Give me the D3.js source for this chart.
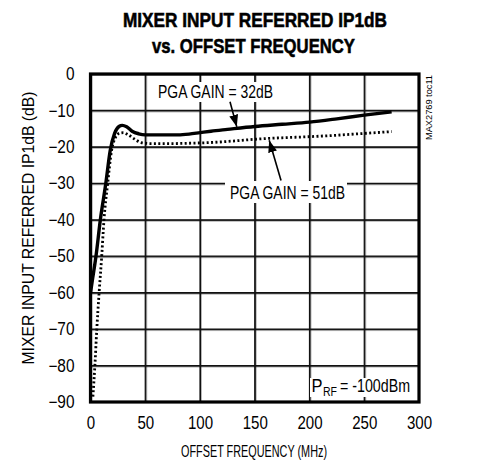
<!DOCTYPE html>
<html><head><meta charset="utf-8">
<script src="https://cdn.jsdelivr.net/npm/d3@7"></script>
<style>
body{margin:0;background:#fff}
svg{display:block}
text{font-family:"Liberation Sans",Arial,sans-serif;fill:#000}
</style>
</head><body>
<svg id="c" width="492" height="460"></svg>
<script>
// ---- data ----
const xTicks = [0, 50, 100, 150, 200, 250, 300];
const yTicks = [0, -10, -20, -30, -40, -50, -60, -70, -80, -90];
const freq32 = [0, 2, 5, 9, 14, 18, 22, 26, 29, 33, 38, 44, 50, 60, 70, 80, 90, 100, 110, 125, 150, 175, 200, 225, 250, 275];
const ip32   = [-60, -56, -50, -40, -30, -21, -16.3, -14.4, -14.1, -14.5, -15.7, -16.4, -16.7, -16.7, -16.7, -16.7, -16.5, -16.1, -15.7, -15.2, -14.4, -13.8, -13.2, -12.3, -11.3, -10.4];
const freq51 = [2.2, 4.1, 5.7, 7.8, 10.2, 12.3, 15.7, 19.3, 23, 27, 30, 34, 40, 46, 55, 70, 90, 110, 130, 155, 175, 200, 225, 250, 275];
const ip51   = [-88.5, -79.5, -70.3, -60.3, -50.2, -40.1, -30, -20.9, -17.3, -16.2, -16.1, -16.6, -17.8, -18.8, -19.1, -19.1, -19.0, -18.8, -18.4, -17.8, -17.5, -17.2, -16.8, -16.3, -15.8];
const titleLines = ["MIXER INPUT REFERRED IP1dB", "vs. OFFSET FREQUENCY"];
const xLabel = "OFFSET FREQUENCY (MHz)";
const yLabel = "MIXER INPUT REFERRED IP1dB (dB)";

const svg = d3.select("#c");
const L = 90.5, R = 419, T = 74, B = 402;
const x = d3.scaleLinear().domain([0, 300]).range([L, R]);
const y = d3.scaleLinear().domain([-90, 0]).range([B, T]);

function condense(sel, f) {
  sel.each(function () {
    const w = this.getComputedTextLength();
    d3.select(this).attr("textLength", w * f).attr("lengthAdjust", "spacingAndGlyphs");
  });
}

const defs = svg.append("defs");

// grid as a pattern whose tile size comes from the scales' tick spacing
const cellW = x(xTicks[1]) - x(xTicks[0]);
const cellH = y(yTicks[1]) - y(yTicks[0]);
const pat = defs.append("pattern").attr("id", "gridpat").attr("patternUnits", "userSpaceOnUse")
  .attr("x", L).attr("y", T).attr("width", cellW).attr("height", cellH);
pat.append("rect").attr("width", cellW).attr("height", cellH).attr("fill", "#fff");
pat.append("rect").attr("x", 0).attr("y", 0).attr("width", 1.3).attr("height", cellH).attr("fill", "#111");
pat.append("rect").attr("x", 0).attr("y", 0).attr("width", cellW).attr("height", 1.3).attr("fill", "#111");
svg.append("rect").attr("x", L).attr("y", T).attr("width", R - L).attr("height", B - T)
  .attr("fill", "url(#gridpat)");

// grid lines also as explicit lines (in case patterns are flattened)
const gridG = svg.append("g");
xTicks.slice(1, -1).forEach(t => {
  gridG.append("line").attr("x1", x(t)).attr("x2", x(t)).attr("y1", T).attr("y2", B)
    .attr("stroke", "#111").attr("stroke-width", 1.2);
});
yTicks.slice(1, -1).forEach(t => {
  gridG.append("line").attr("x1", L).attr("x2", R).attr("y1", y(t)).attr("y2", y(t))
    .attr("stroke", "#111").attr("stroke-width", 1.2);
});

// curves
defs.append("clipPath").attr("id", "clip").append("rect")
  .attr("x", L).attr("y", T).attr("width", R - L).attr("height", B - T);
const line = d3.line().x(d => x(d[0])).y(d => y(d[1])).curve(d3.curveMonotoneX);
const plot = svg.append("g").attr("clip-path", "url(#clip)");
plot.append("path").datum(freq51.map((f, i) => [f, ip51[i]]))
  .attr("d", line).attr("fill", "none").attr("stroke", "#000")
  .attr("stroke-width", 2.8).attr("stroke-dasharray", "2,2.4");
plot.append("path").datum(freq32.map((f, i) => [f, ip32[i]]))
  .attr("d", line).attr("fill", "none").attr("stroke", "#000")
  .attr("stroke-width", 3.4).attr("stroke-linejoin", "round");

// title
svg.append("text").attr("x", 255).attr("y", 27).attr("text-anchor", "middle")
  .attr("font-weight", "bold").attr("font-size", 21).attr("stroke", "#000").attr("stroke-width", 0.6)
  .attr("textLength", 264).attr("lengthAdjust", "spacingAndGlyphs").text(titleLines[0]);
svg.append("text").attr("x", 253.5).attr("y", 53).attr("text-anchor", "middle")
  .attr("font-weight", "bold").attr("font-size", 21).attr("stroke", "#000").attr("stroke-width", 0.6)
  .attr("textLength", 203).attr("lengthAdjust", "spacingAndGlyphs").text(titleLines[1]);

// axis tick labels
const xAxis = svg.append("g").attr("transform", `translate(0,${B})`)
  .call(d3.axisBottom(x).tickValues(xTicks).tickSize(0).tickPadding(15).tickFormat(d3.format("d")));
xAxis.select(".domain").remove();
xAxis.attr("font-family", null);
xAxis.selectAll("text").attr("font-size", 17.5);
condense(xAxis.selectAll("text"), 0.86);
const yAxis = svg.append("g").attr("transform", `translate(${L},0)`)
  .call(d3.axisLeft(y).tickValues(yTicks).tickSize(0).tickPadding(16).tickFormat(d3.format("d")));
yAxis.select(".domain").remove();
yAxis.attr("font-family", null);
yAxis.selectAll("text").attr("font-size", 17.5);
condense(yAxis.selectAll("text"), 0.88);

svg.append("text").attr("x", 254).attr("y", 457).attr("text-anchor", "middle")
  .attr("font-size", 16.5).attr("textLength", 146).attr("lengthAdjust", "spacingAndGlyphs").text(xLabel);
svg.append("text").attr("transform", "translate(34,228) rotate(-90)").attr("text-anchor", "middle")
  .attr("font-size", 16.5).attr("textLength", 273).attr("lengthAdjust", "spacingAndGlyphs").text(yLabel);

// annotation boxes
svg.append("rect").attr("x", 155).attr("y", 82).attr("width", 121).attr("height", 20).attr("fill", "#fff");
svg.append("rect").attr("x", 225).attr("y", 181).attr("width", 122).attr("height", 22).attr("fill", "#fff");
svg.append("rect").attr("x", 310).attr("y", 378).attr("width", 101).attr("height", 19).attr("fill", "#fff");

// arrows
defs.append("marker").attr("id", "ah").attr("markerUnits", "userSpaceOnUse")
  .attr("markerWidth", 14).attr("markerHeight", 10).attr("refX", 12).attr("refY", 4.5)
  .attr("orient", "auto").append("path").attr("d", "M0,0 L12,4.5 L0,9 Z").attr("fill", "#000");
svg.append("line").attr("x1", x(127.4)).attr("y1", y(-7.6)).attr("x2", x(133.6)).attr("y2", y(-14.5))
  .attr("stroke", "#000").attr("stroke-width", 1.6).attr("marker-end", "url(#ah)");
svg.append("line").attr("x1", x(174)).attr("y1", y(-29.2)).attr("x2", x(163.2)).attr("y2", y(-18.2))
  .attr("stroke", "#000").attr("stroke-width", 1.6).attr("marker-end", "url(#ah)");

svg.append("text").attr("x", 215.5).attr("y", 98).attr("text-anchor", "middle")
  .attr("font-size", 17.5).attr("textLength", 115).attr("lengthAdjust", "spacingAndGlyphs").text("PGA GAIN = 32dB");
svg.append("text").attr("x", 287.5).attr("y", 199).attr("text-anchor", "middle")
  .attr("font-size", 17.5).attr("textLength", 115).attr("lengthAdjust", "spacingAndGlyphs").text("PGA GAIN = 51dB");

// P_RF label
const prf = svg.append("g");
prf.append("text").attr("x", 311.5).attr("y", 392).attr("font-size", 17.5)
  .attr("textLength", 11).attr("lengthAdjust", "spacingAndGlyphs").text("P");
prf.append("text").attr("x", 323).attr("y", 396).attr("font-size", 12.5)
  .attr("textLength", 14).attr("lengthAdjust", "spacingAndGlyphs").text("RF");
prf.append("text").attr("x", 410).attr("y", 392).attr("text-anchor", "end").attr("font-size", 17.5)
  .attr("textLength", 70).attr("lengthAdjust", "spacingAndGlyphs").text("= -100dBm");

// frame
svg.append("rect").attr("x", L).attr("y", T).attr("width", R - L).attr("height", B - T)
  .attr("fill", "none").attr("stroke", "#000").attr("stroke-width", 3.2);

// side label
svg.append("text").attr("transform", "translate(432,75) rotate(-90)").attr("text-anchor", "end")
  .attr("font-size", 9.5).attr("textLength", 65).attr("lengthAdjust", "spacingAndGlyphs").text("MAX2769 toc11");
</script>
</body></html>
